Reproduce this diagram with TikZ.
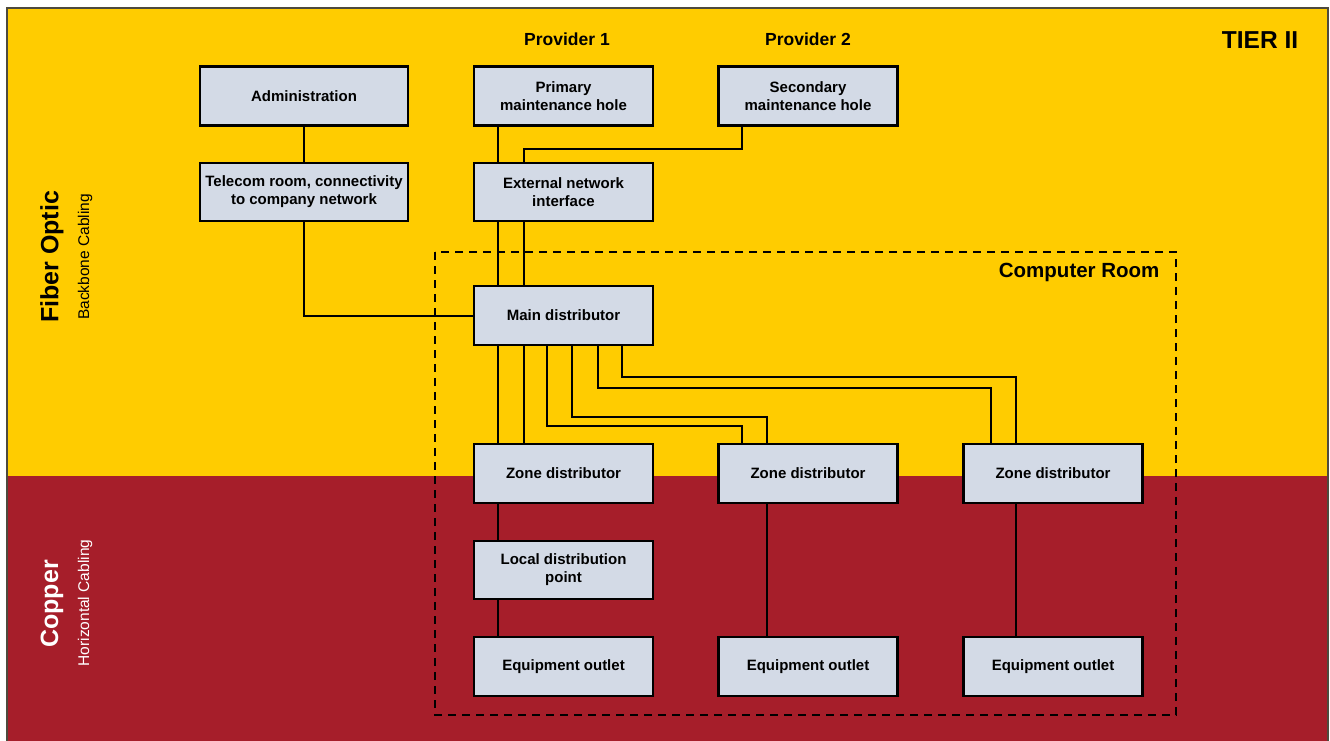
\documentclass[tikz,border=0pt]{standalone}
\usepackage{fontspec}
\setmainfont{Liberation Sans}
\usetikzlibrary{calc}
\definecolor{tieryellow}{HTML}{FFCC00}
\definecolor{tierred}{HTML}{A61E2A}
\definecolor{boxfill}{HTML}{D3DAE6}
\tikzset{
  box/.style={draw=black, line width=2.3pt, fill=boxfill, minimum height=59pt, minimum width=179pt,
    inner sep=0pt, align=center, font=\fontsize{15}{18}\selectfont\bfseries},
  widebox/.style={box, minimum width=208pt},
  wire/.style={draw=black, line width=2pt},
  title/.style={font=\fontsize{17.5}{20}\selectfont\bfseries},
}
\begin{document}
\begin{tikzpicture}[x=1pt,y=-1pt]
\useasboundingbox (0,0) rectangle (1330,740);
% background bands
\fill[white] (0,0) rectangle (1330,740);
\fill[tieryellow] (7,8) rectangle (1328,476);
\fill[tierred] (7,476) rectangle (1328,742);
\draw[line width=1.2pt, black!80!yellow] (7,742) -- (7,8) -- (1328,8) -- (1328,742);

% side labels
\node[rotate=90, font=\fontsize{25}{27}\selectfont\bfseries] (fo) at (52,257) {Fiber Optic};
\node[rotate=90, font=\fontsize{15.5}{18}\selectfont] (bb) at (85,257) {Backbone Cabling};
\node[rotate=90, font=\fontsize{25}{27}\selectfont\bfseries, text=white] (cu) at (52,604) {Copper};
\node[rotate=90, font=\fontsize{15.5}{18}\selectfont, text=white] (hc) at (85,603) {Horizontal Cabling};

% titles
\node[font=\fontsize{24.5}{27}\selectfont\bfseries] (tier) at (1260,40) {TIER II};
\node[title] (p1) at (567,39) {Provider 1};
\node[title] (p2) at (808,39) {Provider 2};

% computer room
\draw[line width=2pt, dash pattern=on 8pt off 6pt] (435,252) rectangle (1176,715);
\node[font=\fontsize{20.5}{23}\selectfont\bfseries, anchor=east] (cr) at (1163,272) {Computer Room};

% boxes
\node[widebox] (adm) at (304,96) {Administration};
\node[box] (prim) at (563.5,96) {Primary\\maintenance hole};
\node[box] (sec) at (808,96) {Secondary\\maintenance hole};
\node[widebox, minimum height=58pt] (tel) at (304,192) {Telecom room, connectivity\\to company network};
\node[box, minimum height=58pt] (ext) at (563.5,192) {External network\\interface};
\node[box] (main) at (563.5,315.5) {Main distributor};
\node[box] (z1) at (563.5,473.5) {Zone distributor};
\node[box] (z2) at (808,473.5) {Zone distributor};
\node[box] (z3) at (1053,473.5) {Zone distributor};
\node[box, minimum height=58pt] (ldp) at (563.5,570) {Local distribution\\point};
\node[box] (o1) at (563.5,666.5) {Equipment outlet};
\node[box] (o2) at (808,666.5) {Equipment outlet};
\node[box] (o3) at (1053,666.5) {Equipment outlet};

% connectors
\draw[wire] (adm.south) -- (tel.north);
\draw[wire] ($(prim.south west)+(25,0)$) -- ($(ext.north west)+(25,0)$);
\draw[wire] ($(sec.south west)+(25,0)$) -- ++(0,22) -| ($(ext.north west)+(51,0)$);
\draw[wire] ($(ext.south west)+(25,0)$) -- ($(main.north west)+(25,0)$);
\draw[wire] ($(ext.south west)+(51,0)$) -- ($(main.north west)+(51,0)$);
\draw[wire] (tel.south) |- (main.west);
\draw[wire] ($(main.south west)+(25,0)$) -- ($(z1.north west)+(25,0)$);
\draw[wire] ($(main.south west)+(51,0)$) -- ($(z1.north west)+(51,0)$);
\draw[wire] ($(main.south west)+(74,0)$) |- ($(z2.north west)+(25,-17)$) -- ($(z2.north west)+(25,0)$);
\draw[wire] ($(main.south west)+(99,0)$) |- ($(z2.north west)+(50,-26)$) -- ($(z2.north west)+(50,0)$);
\draw[wire] ($(main.south west)+(125,0)$) |- ($(z3.north west)+(29,-55)$) -- ($(z3.north west)+(29,0)$);
\draw[wire] ($(main.south west)+(149,0)$) |- ($(z3.north west)+(54,-66)$) -- ($(z3.north west)+(54,0)$);
\draw[wire] ($(z1.south west)+(25,0)$) -- ($(ldp.north west)+(25,0)$);
\draw[wire] ($(ldp.south west)+(25,0)$) -- ($(o1.north west)+(25,0)$);
\draw[wire] ($(z2.south west)+(50,0)$) -- ($(o2.north west)+(50,0)$);
\draw[wire] ($(z3.south west)+(54,0)$) -- ($(o3.north west)+(54,0)$);
\end{tikzpicture}
\end{document}
